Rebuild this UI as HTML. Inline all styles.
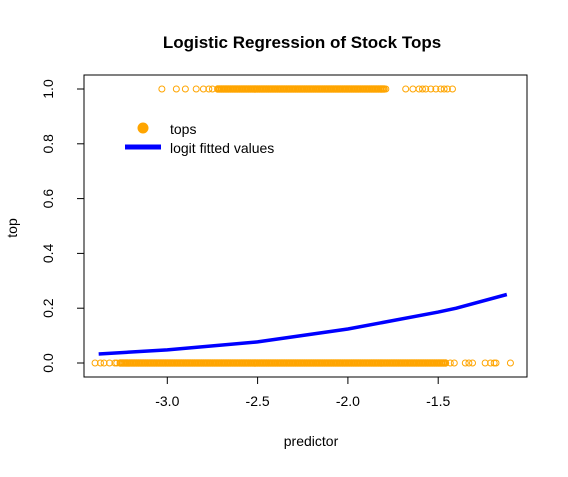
<!DOCTYPE html>
<html><head><meta charset="utf-8"><style>
body{margin:0;background:#fff;}
text{font-family:"Liberation Sans",Arial,sans-serif;}
</style></head><body>
<svg id="chart" width="568" height="472" xmlns="http://www.w3.org/2000/svg">
<rect width="568" height="472" fill="#fff"/>
<text x="302" y="48" text-anchor="middle" font-size="17" font-weight="bold">Logistic Regression of Stock Tops</text>
<rect x="84" y="75" width="443" height="302" fill="none" stroke="#000" stroke-width="1"/>
<g id="xaxis"></g>
<g id="yaxis"></g>
<text x="311" y="446" text-anchor="middle" font-size="14">predictor</text>
<text transform="translate(17,228) rotate(-90)" text-anchor="middle" font-size="14">top</text>
<g id="pts"></g>
<g id="fit"></g>
<g>
<circle cx="143" cy="128" r="5.5" fill="#FFA500"/>
<text x="170" y="134" font-size="14">tops</text>
<line x1="125" y1="147" x2="161" y2="147" stroke="#0000FF" stroke-width="5"/>
<text x="170" y="153" font-size="14">logit fitted values</text>
</g>
</svg>
<script>
const xTicks=[-3.0,-2.5,-2.0,-1.5];
const xTickLabels=["-3.0","-2.5","-2.0","-1.5"];
const yTicks=[0,0.2,0.4,0.6,0.8,1.0];
const yTickLabels=["0.0","0.2","0.4","0.6","0.8","1.0"];
const topSparse=[-3.03,-2.95,-2.90,-2.84,-2.80,-2.77,-2.75,-1.79,-1.68,-1.64,-1.606,-1.587,-1.569,-1.541,-1.513,-1.486,-1.467,-1.449,-1.421];
const topDense=[-2.72,-2.71,-2.70,-2.69,-2.68,-2.67,-2.66,-2.65,-2.64,-2.63,-2.62,-2.61,-2.60,-2.59,-2.58,-2.57,-2.56,-2.55,-2.54,-2.53,-2.52,-2.51,-2.50,-2.49,-2.48,-2.47,-2.46,-2.45,-2.44,-2.43,-2.42,-2.41,-2.40,-2.39,-2.38,-2.37,-2.36,-2.35,-2.34,-2.33,-2.32,-2.31,-2.30,-2.29,-2.28,-2.27,-2.26,-2.25,-2.24,-2.23,-2.22,-2.21,-2.20,-2.19,-2.18,-2.17,-2.16,-2.15,-2.14,-2.13,-2.12,-2.11,-2.10,-2.09,-2.08,-2.07,-2.06,-2.05,-2.04,-2.03,-2.02,-2.01,-2.00,-1.99,-1.98,-1.97,-1.96,-1.95,-1.94,-1.93,-1.92,-1.91,-1.90,-1.89,-1.88,-1.87,-1.86,-1.85,-1.84,-1.83,-1.82,-1.81,-1.80];
const bottomSparse=[-3.40,-3.37,-3.35,-3.32,-3.29,-3.28,-1.433,-1.411,-1.35,-1.33,-1.31,-1.24,-1.21,-1.19,-1.18,-1.10];
const bottomDense=[-3.26,-3.25,-3.24,-3.23,-3.22,-3.21,-3.20,-3.19,-3.18,-3.17,-3.16,-3.15,-3.14,-3.13,-3.12,-3.11,-3.10,-3.09,-3.08,-3.07,-3.06,-3.05,-3.04,-3.03,-3.02,-3.01,-3.00,-2.99,-2.98,-2.97,-2.96,-2.95,-2.94,-2.93,-2.92,-2.91,-2.90,-2.89,-2.88,-2.87,-2.86,-2.85,-2.84,-2.83,-2.82,-2.81,-2.80,-2.79,-2.78,-2.77,-2.76,-2.75,-2.74,-2.73,-2.72,-2.71,-2.70,-2.69,-2.68,-2.67,-2.66,-2.65,-2.64,-2.63,-2.62,-2.61,-2.60,-2.59,-2.58,-2.57,-2.56,-2.55,-2.54,-2.53,-2.52,-2.51,-2.50,-2.49,-2.48,-2.47,-2.46,-2.45,-2.44,-2.43,-2.42,-2.41,-2.40,-2.39,-2.38,-2.37,-2.36,-2.35,-2.34,-2.33,-2.32,-2.31,-2.30,-2.29,-2.28,-2.27,-2.26,-2.25,-2.24,-2.23,-2.22,-2.21,-2.20,-2.19,-2.18,-2.17,-2.16,-2.15,-2.14,-2.13,-2.12,-2.11,-2.10,-2.09,-2.08,-2.07,-2.06,-2.05,-2.04,-2.03,-2.02,-2.01,-2.00,-1.99,-1.98,-1.97,-1.96,-1.95,-1.94,-1.93,-1.92,-1.91,-1.90,-1.89,-1.88,-1.87,-1.86,-1.85,-1.84,-1.83,-1.82,-1.81,-1.80,-1.79,-1.78,-1.77,-1.76,-1.75,-1.74,-1.73,-1.72,-1.71,-1.70,-1.69,-1.68,-1.67,-1.66,-1.65,-1.64,-1.63,-1.62,-1.61,-1.60,-1.59,-1.58,-1.57,-1.56,-1.55,-1.54,-1.53,-1.52,-1.51,-1.50,-1.49,-1.48,-1.47,-1.46];
const fitX=[-3.38,-3.0,-2.5,-2.0,-1.5,-1.4,-1.12];
const fitY=[0.033,0.048,0.077,0.124,0.186,0.20,0.25];

const NS="http://www.w3.org/2000/svg";
function sx(v){return 167.3+(v+3)*180.6;}
function sy(v){return 363-v*274;}
function mk(tag,attrs,parent){const e=document.createElementNS(NS,tag);for(const k in attrs)e.setAttribute(k,attrs[k]);parent.appendChild(e);return e;}
const xa=document.getElementById('xaxis'),ya=document.getElementById('yaxis');
mk('line',{x1:sx(xTicks[0]),x2:sx(xTicks[xTicks.length-1]),y1:377,y2:377,stroke:'#000'},xa);
xTicks.forEach((t,i)=>{
 const l=mk('line',{x1:sx(t),x2:sx(t),y1:377,y2:384,stroke:'#000'},xa);
 
 
 const tx=mk('text',{x:sx(t),y:406,'text-anchor':'middle','font-size':14},xa);
 tx.textContent=xTickLabels[i];
 
 
});
mk('line',{x1:84,x2:84,y1:sy(0),y2:sy(1),stroke:'#000'},ya);
yTicks.forEach((t,i)=>{
 const l=mk('line',{x1:77,x2:84,y1:sy(t),y2:sy(t),stroke:'#000'},ya);
 
 
 const tx=mk('text',{transform:`translate(53,${sy(t)}) rotate(-90)`,'text-anchor':'middle','font-size':14},ya);
 tx.textContent=yTickLabels[i];
 
 
});
const pg=document.getElementById('pts');
function pts(arr,yv,w){arr.forEach(v=>{
 const c=mk('circle',{cx:sx(v),cy:sy(yv),r:3,fill:'none',stroke:'#FFA500','stroke-width':w},pg);
 
 
});}
pts(topSparse,1,1);pts(topDense,1,1.6);pts(bottomSparse,0,1);pts(bottomDense,0,1.6);
const fg=document.getElementById('fit');
const pl=mk('polyline',{points:fitX.map((x,i)=>sx(x)+','+sy(fitY[i])).join(' '),fill:'none',stroke:'#0000FF','stroke-width':3.5},fg);


</script>
</body></html>
